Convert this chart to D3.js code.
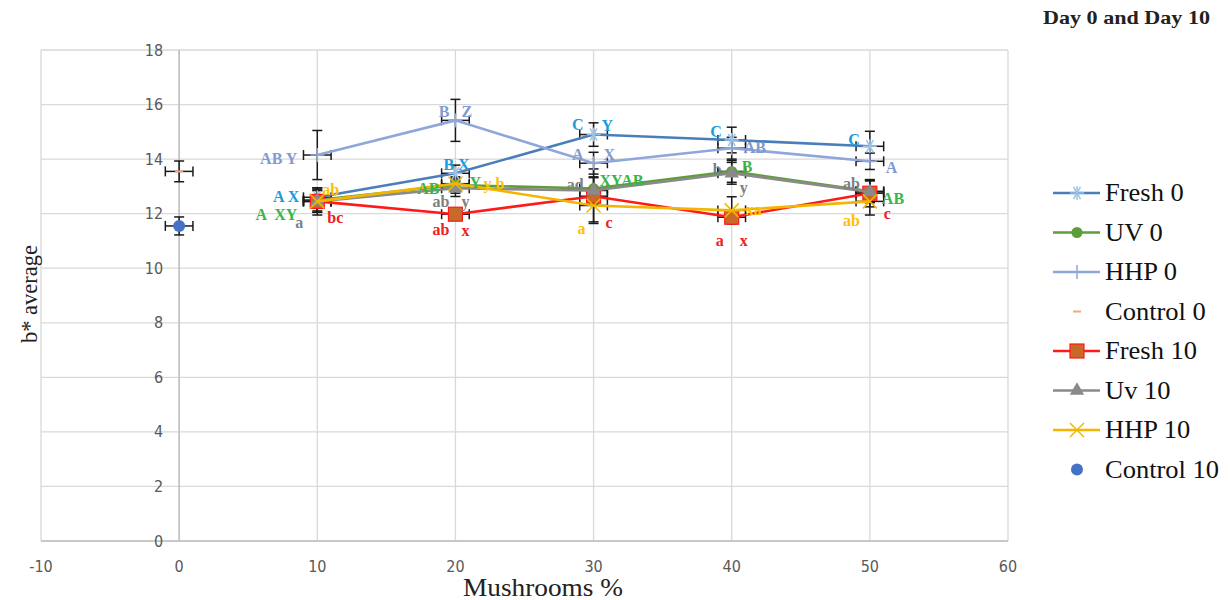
<!DOCTYPE html>
<html><head><meta charset="utf-8">
<script src="https://cdn.jsdelivr.net/npm/d3@7"></script>
<style>body{margin:0;background:#fff}svg{display:block}</style>
</head><body><svg id="c" width="1232" height="600"></svg>
<script>
// ---- data ----
const xTicks = [-10, 0, 10, 20, 30, 40, 50, 60];
const yTicks = [0, 2, 4, 6, 8, 10, 12, 14, 16, 18];
const mushrooms = [10, 20, 30, 40, 50];
const fresh0 = [12.6, 13.48, 14.9, 14.7, 14.47];
const fresh0Err = [0.35, 0.3, 0.43, 0.47, 0.55];
const uv0 = [12.5, 13.05, 12.92, 13.55, 12.82];
const uv0Err = [0.4, 0.3, 0.4, 0.4, 0.4];
const hhp0 = [14.15, 15.42, 13.85, 14.4, 13.92];
const hhp0Err = [0.9, 0.77, 0.4, 0.4, 0.3];
const control0 = [13.55];
const control0Err = [0.38];
const fresh10 = [12.45, 11.98, 12.64, 11.87, 12.75];
const fresh10Err = [0.4, 0.2, 1.0, 0.2, 0.5];
const uv10 = [12.45, 12.93, 12.85, 13.48, 12.8];
const uv10Err = [0.4, 0.3, 0.5, 0.4, 0.4];
const hhp10 = [12.45, 13.1, 12.3, 12.12, 12.45];
const hhp10Err = [0.5, 0.2, 0.6, 0.5, 0.5];
const control10 = [11.55];
const control10Err = [0.33];
const controlX = [0];
const xErr = 1;
const legendNames = ["Fresh 0", "UV 0", "HHP 0", "Control 0", "Fresh 10", "Uv 10", "HHP 10", "Control 10"];
// significance letters: [series, point index, text]
const letters = [
  ["hhp0",0,"AB Y"],["fresh0",0,"A X"],["hhp10",0,"ab"],["uv0",0,"A  XY"],["uv10",0,"a"],["fresh10",0,"bc"],
  ["hhp0",1,"B"],["hhp0",1,"Z"],["fresh0",1,"B X"],["uv0",1,"AB"],["uv0",1,"Y"],["hhp10",1,"y b"],["uv10",1,"ab"],["uv10",1,"y"],["fresh10",1,"ab"],["fresh10",1,"x"],
  ["fresh0",2,"C"],["fresh0",2,"Y"],["hhp0",2,"A"],["hhp0",2,"X"],["uv10",2,"ad"],["uv0",2,"XYAB"],["hhp10",2,"a"],["fresh10",2,"c"],
  ["fresh0",3,"C"],["hhp0",3,"AB"],["uv10",3,"b"],["uv0",3,"B"],["uv10",3,"y"],["hhp10",3,"xa"],["fresh10",3,"a"],["fresh10",3,"x"],
  ["fresh0",4,"C"],["hhp0",4,"A"],["uv10",4,"ab"],["uv0",4,"AB"],["hhp10",4,"ab"],["fresh10",4,"c"]
];
// label placement offsets (px) relative to the point, same order as letters
const letterOffsets = [
  [-20,4,"end"],[-18,0,"end"],[5,-11,"start"],[-20,15,"end"],[-14,22,"end"],[10,17,"start"],
  [-6,-8,"end"],[6,-8,"start"],[-12,-8,"start"],[-16,4,"end"],[14,-2,"start"],[28,0,"start"],[-6,14,"end"],[6,14,"start"],[-6,16,"end"],[6,17,"start"],
  [-10,-10,"end"],[8,-9,"start"],[-10,-8,"end"],[10,-8,"start"],[-10,-5,"end"],[6,-8,"start"],[-8,24,"end"],[12,27,"start"],
  [-10,-8,"end"],[12,0,"start"],[-10,-3,"end"],[10,-4,"start"],[8,15,"start"],[14,0,"start"],[-8,24,"end"],[8,24,"start"],
  [-10,-6,"end"],[16,7,"start"],[-10,-8,"end"],[12,8,"start"],[-10,20,"end"],[14,21,"start"]
];

// ---- layout ----
const svg = d3.select("#c");
const L = 41, R = 1008, T = 50, B = 541;
const x = d3.scaleLinear().domain([-10, 60]).range([L, R]);
const y = d3.scaleLinear().domain([0, 18]).range([B, T]);

const colors = {
  fresh0: "#4A7EBB", uv0: "#5E9E3A", hhp0: "#8EA6DA", control0: "#F4A582",
  fresh10: "#FF1A1A", uv10: "#8A8A8A", hhp10: "#F2B600", control10: "#4472C4"
};
const labelColors = {
  fresh0: "#1E9BDB", uv0: "#39B54A", hhp0: "#7F9BD0", uv10: "#808080", hhp10: "#FFC000", fresh10: "#F02020"
};
const seriesData = {fresh0, uv0, hhp0, fresh10, uv10, hhp10};
const seriesErr = {fresh0: fresh0Err, uv0: uv0Err, hhp0: hhp0Err, fresh10: fresh10Err, uv10: uv10Err, hhp10: hhp10Err};

// grid
const g = svg.append("g");
g.selectAll(".gy").data(yTicks).join("line")
  .attr("x1", L).attr("x2", R).attr("y1", d => y(d)).attr("y2", d => y(d))
  .attr("stroke", "#d9d9d9").attr("stroke-width", 1.3);
g.selectAll(".gx").data(xTicks).join("line")
  .attr("y1", T).attr("y2", B).attr("x1", d => x(d)).attr("x2", d => x(d))
  .attr("stroke", "#d9d9d9").attr("stroke-width", 1.3);
g.append("line").attr("x1", L).attr("x2", R).attr("y1", y(0)).attr("y2", y(0)).attr("stroke", "#bfbfbf").attr("stroke-width", 1.5);
g.append("line").attr("x1", x(0)).attr("x2", x(0)).attr("y1", T).attr("y2", B).attr("stroke", "#bfbfbf").attr("stroke-width", 1.5);

// tick labels
const tickFont = "'Liberation Sans Narrow','DejaVu Sans Condensed','Liberation Sans',sans-serif";
g.selectAll(".ty").data(yTicks).join("text")
  .attr("x", x(0) - 16).attr("y", d => y(d) + 5.5).attr("text-anchor", "end")
  .attr("font-family", tickFont).attr("font-size", 16).attr("fill", "#595959").text(d => d);
g.selectAll(".tx").data(xTicks).join("text")
  .attr("x", d => x(d)).attr("y", 572).attr("text-anchor", "middle")
  .attr("font-family", tickFont).attr("font-size", 16).attr("fill", "#595959").text(d => d);

// axis titles
const serif = "'Liberation Serif','Times New Roman',serif";
svg.append("text").attr("x", 463).attr("y", 596)
  .attr("font-family", serif).attr("font-size", 25).attr("fill", "#222")
  .attr("textLength", 160).attr("lengthAdjust", "spacingAndGlyphs").text("Mushrooms %");
svg.append("text").attr("transform", "translate(37,343) rotate(-90)")
  .attr("font-family", serif).attr("font-size", 24).attr("fill", "#222")
  .attr("textLength", 98).attr("lengthAdjust", "spacingAndGlyphs").text("b* average");
svg.append("text").attr("x", 1043).attr("y", 24)
  .attr("font-family", serif).attr("font-size", 19).attr("font-weight", "bold").attr("fill", "#222")
  .attr("textLength", 167).attr("lengthAdjust", "spacingAndGlyphs").text("Day 0 and Day 10");

// error bars
function errorBars(sel, xs, ys, es) {
  const eg = sel.append("g").attr("stroke", "#1a1a1a").attr("stroke-width", 1.5);
  xs.forEach((xv, i) => {
    const px = x(xv), py = y(ys[i]);
    const y1 = y(ys[i] + es[i]), y2 = y(ys[i] - es[i]);
    eg.append("line").attr("x1", px).attr("x2", px).attr("y1", y1).attr("y2", y2);
    eg.append("line").attr("x1", px - 5).attr("x2", px + 5).attr("y1", y1).attr("y2", y1);
    eg.append("line").attr("x1", px - 5).attr("x2", px + 5).attr("y1", y2).attr("y2", y2);
    const x1 = x(xv - xErr), x2 = x(xv + xErr);
    eg.append("line").attr("x1", x1).attr("x2", x2).attr("y1", py).attr("y2", py);
    eg.append("line").attr("x1", x1).attr("x2", x1).attr("y1", py - 5).attr("y2", py + 5);
    eg.append("line").attr("x1", x2).attr("x2", x2).attr("y1", py - 5).attr("y2", py + 5);
  });
}

// markers
function marker(sel, type, cx, cy, color) {
  const m = sel.append("g").attr("transform", `translate(${cx},${cy})`);
  if (type === "star") {
    [0, 60, 120].forEach(a => m.append("line").attr("x1", -7).attr("x2", 7).attr("transform", `rotate(${a})`)
      .attr("stroke", "#9DC3E6").attr("stroke-width", 1.5));
    m.append("line").attr("y1", -7).attr("y2", 7).attr("stroke", "#9DC3E6").attr("stroke-width", 1.5);
  } else if (type === "circle") {
    m.append("circle").attr("r", 5.5).attr("fill", color);
  } else if (type === "plus") {
    m.append("line").attr("x1", -7).attr("x2", 7).attr("stroke", color).attr("stroke-width", 1.5);
    m.append("line").attr("y1", -7).attr("y2", 7).attr("stroke", color).attr("stroke-width", 1.5);
  } else if (type === "dash") {
    m.append("line").attr("x1", -4).attr("x2", 4).attr("stroke", color).attr("stroke-width", 2);
  } else if (type === "square") {
    m.append("rect").attr("x", -7).attr("y", -7).attr("width", 14).attr("height", 14)
      .attr("fill", "#C8692A").attr("stroke", "#FF1A1A").attr("stroke-width", 1.2);
  } else if (type === "triangle") {
    m.append("path").attr("d", d3.symbol(d3.symbolTriangle, 90)()).attr("fill", "#8A8A8A");
  } else if (type === "x") {
    m.append("line").attr("x1", -7).attr("x2", 7).attr("y1", -7).attr("y2", 7).attr("stroke", color).attr("stroke-width", 1.5);
    m.append("line").attr("x1", -7).attr("x2", 7).attr("y1", 7).attr("y2", -7).attr("stroke", color).attr("stroke-width", 1.5);
  } else if (type === "dot") {
    m.append("circle").attr("r", 6).attr("fill", color);
  }
}
const markerType = {fresh0: "star", uv0: "circle", hhp0: "plus", control0: "dash", fresh10: "square", uv10: "triangle", hhp10: "x", control10: "dot"};

// series in Excel plotting order; error bars underneath everything
const line = d3.line().x(d => x(d[0])).y(d => y(d[1]));
const order = ["fresh0", "uv0", "hhp0", "control0", "fresh10", "uv10", "hhp10", "control10"];
const errLayer = svg.append("g");
const seriesLayer = svg.append("g");
order.forEach(k => {
  const sg = seriesLayer.append("g");
  if (k === "control0" || k === "control10") {
    const vals = k === "control0" ? control0 : control10;
    const errs = k === "control0" ? control0Err : control10Err;
    errorBars(errLayer, controlX, vals, errs);
    marker(sg, markerType[k], x(controlX[0]), y(vals[0]), colors[k]);
    return;
  }
  const pts = mushrooms.map((m, i) => [m, seriesData[k][i]]);
  errorBars(errLayer, mushrooms, seriesData[k], seriesErr[k]);
  sg.append("path").attr("d", line(pts)).attr("fill", "none").attr("stroke", colors[k]).attr("stroke-width", 2.6);
  pts.forEach(p => marker(sg, markerType[k], x(p[0]), y(p[1]), colors[k]));
});

// letters
const lg = svg.append("g").attr("font-family", serif).attr("font-weight", "bold").attr("font-size", 16);
letters.forEach((l, i) => {
  const [k, idx, t] = l;
  const [dx, dy, anchor] = letterOffsets[i];
  lg.append("text").attr("x", x(mushrooms[idx]) + dx).attr("y", y(seriesData[k][idx]) + dy + 5)
    .attr("text-anchor", anchor).attr("fill", labelColors[k]).style("white-space", "pre").text(t);
});

// legend
const leg = svg.append("g");
order.forEach((k, i) => {
  const ly = 193 + i * 39.5;
  if (k !== "control0" && k !== "control10") {
    leg.append("line").attr("x1", 1053).attr("x2", 1100).attr("y1", ly).attr("y2", ly).attr("stroke", colors[k]).attr("stroke-width", 2.6);
  }
  marker(leg, markerType[k], 1077, ly, colors[k]);
  const t = leg.append("text").attr("x", 1105).attr("y", ly + 8).attr("font-family", serif).attr("font-size", 25).attr("fill", "#111").text(legendNames[i]);
  const w = t.node().getComputedTextLength();
  t.attr("textLength", w * 1.06).attr("lengthAdjust", "spacingAndGlyphs");
});
</script></body></html>
